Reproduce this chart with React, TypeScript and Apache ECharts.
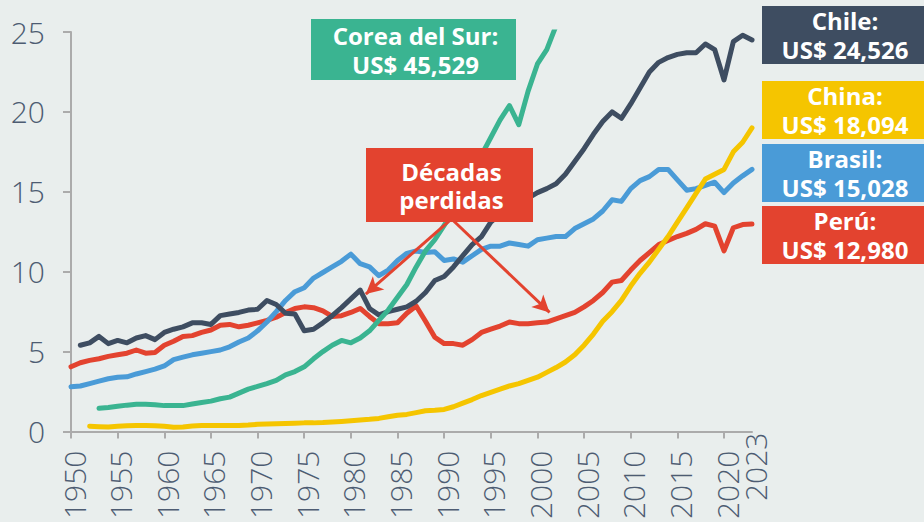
import React, { useEffect, useRef } from "react";
import * as echarts from "echarts";

// ---- Data (PIB per cápita, miles de US$) ----
const xTickYears = [1950, 2023];
const yTicks = [0, 25];

const chileStart = 1951;
const chile = [
  5.4, 5.55, 5.95, 5.5, 5.7, 5.55, 5.85, 6.0, 5.75, 6.2,
  6.4, 6.55, 6.8, 6.8, 6.7, 7.25, 7.35, 7.45, 7.6, 7.65,
  8.2, 7.95, 7.4, 7.35, 6.3, 6.4, 6.8, 7.25, 7.75, 8.3,
  8.85, 7.7, 7.3, 7.5, 7.65, 7.8, 8.15, 8.7, 9.45, 9.7,
  10.3, 11.0, 11.7, 12.2, 13.1, 13.6, 13.95, 14.25, 14.6, 14.95,
  15.2, 15.5, 16.1, 16.9, 17.7, 18.6, 19.4, 20.0, 19.6, 20.5,
  21.5, 22.5, 23.1, 23.4, 23.6, 23.7, 23.7, 24.25, 23.9, 22.0,
  24.4, 24.8, 24.5,
];

const peruStart = 1950;
const peru = [
  4.05, 4.3, 4.45, 4.55, 4.7, 4.8, 4.9, 5.1, 4.9, 4.95,
  5.4, 5.65, 5.95, 6.0, 6.2, 6.35, 6.65, 6.7, 6.55, 6.65,
  6.8, 6.95, 7.15, 7.45, 7.7, 7.8, 7.75, 7.55, 7.2, 7.25,
  7.45, 7.7, 7.2, 6.75, 6.75, 6.8, 7.4, 7.85, 6.9, 5.9,
  5.5, 5.5, 5.4, 5.75, 6.2, 6.4, 6.6, 6.85, 6.75, 6.75,
  6.8, 6.85, 7.05, 7.25, 7.45, 7.8, 8.2, 8.7, 9.35, 9.45,
  10.1, 10.7, 11.2, 11.7, 11.95, 12.2, 12.4, 12.65, 13.0, 12.85,
  11.3, 12.75, 12.95, 12.98,
];

const brasilStart = 1950;
const brasil = [
  2.8, 2.85, 3.0, 3.15, 3.3, 3.4, 3.42, 3.6, 3.75, 3.9,
  4.1, 4.5, 4.65, 4.8, 4.9, 5.0, 5.1, 5.3, 5.6, 5.85,
  6.3, 6.85, 7.5, 8.2, 8.75, 9.0, 9.6, 9.95, 10.3, 10.65,
  11.1, 10.5, 10.3, 9.75, 10.1, 10.7, 11.15, 11.3, 11.2, 11.25,
  10.7, 10.8, 10.6, 11.0, 11.4, 11.6, 11.6, 11.8, 11.7, 11.6,
  12.0, 12.1, 12.2, 12.2, 12.7, 13.0, 13.3, 13.8, 14.5, 14.4,
  15.2, 15.7, 15.95, 16.4, 16.4, 15.75, 15.1, 15.2, 15.4, 15.6,
  14.95, 15.55, 16.0, 16.4,
];

const coreaStart = 1953;
const corea = [
  1.45, 1.5, 1.58, 1.65, 1.7, 1.7, 1.68, 1.62, 1.62, 1.62,
  1.72, 1.82, 1.9, 2.05, 2.15, 2.4, 2.65, 2.82, 3.0, 3.2,
  3.55, 3.75, 4.05, 4.55, 5.0, 5.4, 5.7, 5.55, 5.85, 6.3,
  6.95, 7.6, 8.4, 9.2, 10.3, 11.3, 12.0, 12.9, 13.8, 14.8,
  15.8, 17.3, 18.4, 19.5, 20.4, 19.2, 21.3, 23.0, 23.9, 25.4,
];

const chinaStart = 1952;
const china = [
  0.33, 0.3, 0.28, 0.33, 0.36, 0.37, 0.37, 0.36, 0.33, 0.27,
  0.28, 0.34, 0.37, 0.38, 0.38, 0.37, 0.37, 0.4, 0.45, 0.47,
  0.48, 0.5, 0.52, 0.54, 0.54, 0.56, 0.6, 0.63, 0.67, 0.72,
  0.76, 0.82, 0.92, 1.02, 1.07, 1.18, 1.3, 1.33, 1.38, 1.55,
  1.78, 2.0, 2.25, 2.45, 2.65, 2.85, 3.0, 3.2, 3.4, 3.7,
  4.0, 4.35, 4.8, 5.4, 6.1, 6.9, 7.5, 8.2, 9.1, 9.9,
  10.6, 11.4, 12.2, 13.1, 14.0, 14.9, 15.8, 16.1, 16.4, 17.5,
  18.1, 19.0,
];

// Annotation arrows ("Décadas perdidas"), in data coordinates [year, value]
const arrowFrom = [1990.8, 13.3];
const arrowToLeft = [1981.6, 8.6];
const arrowToRight = [2001.3, 7.45];

const labelChile = "Chile:\nUS$ 24,526";
const labelChina = "China:\nUS$ 18,094";
const labelBrasil = "Brasil:\nUS$ 15,028";
const labelPeru = "Perú:\nUS$ 12,980";
const labelCorea = "Corea del Sur:\nUS$ 45,529";
const labelDecadas = "Décadas\nperdidas";

// ---- Styles ----
const C_CHILE = "#3e4d61";
const C_PERU = "#e3432f";
const C_BRASIL = "#4a9bd7";
const C_COREA = "#3ab491";
const C_CHINA = "#f5c500";
const BG = "#e9eeed";
const AXIS_TEXT = "#4d5c72";
const AXIS_LINE = "#ababab";
const FONT = "'Open Sans', 'Noto Sans', sans-serif";

const toPairs = (start: number, vals: number[]) =>
  vals.map((v, i) => [start + i, v]);

function box(x: number, y: number, w: number, h: number, color: string, text: string, gap: number, size = 24) {
  return {
    type: "group",
    children: [
      { type: "rect", z: 100, shape: { x, y, width: w, height: h }, style: { fill: color } },
      {
        type: "text",
        z: 101,
        style: {
          text,
          x: x + w / 2 + 2,
          y: y + h / 2,
          align: "center",
          verticalAlign: "middle",
          lineHeight: gap,
          fill: "#ffffff",
          fontSize: size,
          fontWeight: "bold",
          fontFamily: FONT,
        },
      },
    ],
  };
}

function lineSeries(name: string, color: string, data: number[][], extra: any = {}) {
  return {
    name,
    type: "line",
    data,
    showSymbol: false,
    symbol: "none",
    clip: true,
    lineStyle: { color, width: 5, cap: "round", join: "round" },
    itemStyle: { color },
    emphasis: { disabled: true },
    ...extra,
  };
}

const xRich = { color: AXIS_TEXT, fontSize: 30, fontWeight: 300, fontFamily: FONT, lineHeight: 20 };

export default function App() {
  const ref = useRef<HTMLDivElement>(null);

  useEffect(() => {
    if (!ref.current) return;
    const chart = echarts.init(ref.current, undefined, { renderer: "svg" });
    const option: any = {
      animation: false,
      backgroundColor: BG,
      grid: { left: 71, right: 172, top: 32, bottom: 86, containLabel: false },
      xAxis: [
        {
          type: "value",
          min: xTickYears[0],
          max: xTickYears[1],
          interval: 5,
          splitLine: { show: false },
          axisLine: { show: true, onZero: false, lineStyle: { color: AXIS_LINE, width: 2 } },
          axisTick: { show: true, length: 7, lineStyle: { color: AXIS_LINE, width: 2 } },
          axisLabel: {
            rotate: 90,
            margin: 1,
            showMinLabel: true,
            showMaxLabel: false,
            formatter: (v: number) => `{n|${v}}`,
            rich: { n: { ...xRich, padding: [6, 18, 0, 0] } },
          },
        },
        {
          // second bottom axis only to show the final year label
          type: "value",
          position: "bottom",
          min: xTickYears[0],
          max: xTickYears[1],
          interval: 5,
          splitLine: { show: false },
          axisLine: { show: false, onZero: false },
          axisTick: { show: false },
          axisLabel: {
            rotate: 90,
            margin: 1,
            showMinLabel: false,
            showMaxLabel: true,
            formatter: (v: number) => (v === xTickYears[1] ? `{e|${v}}` : ""),
            rich: { e: { ...xRich, padding: [6, 0, 0, 0] } },
          },
        },
      ],
      yAxis: {
        type: "value",
        min: yTicks[0],
        max: yTicks[1],
        interval: 5,
        splitLine: { show: false },
        axisLine: { show: true, lineStyle: { color: AXIS_LINE, width: 2 } },
        axisTick: { show: true, length: 8, lineStyle: { color: AXIS_LINE, width: 2 } },
        axisLabel: {
          margin: 26,
          color: AXIS_TEXT,
          fontSize: 30,
          fontWeight: 300,
          fontFamily: FONT,
        },
      },
      series: [
        lineSeries("Perú", C_PERU, toPairs(peruStart, peru)),
        lineSeries("Brasil", C_BRASIL, toPairs(brasilStart, brasil)),
        lineSeries("Chile", C_CHILE, toPairs(chileStart, chile)),
        lineSeries("Corea del Sur", C_COREA, toPairs(coreaStart, corea)),
        lineSeries("China", C_CHINA, toPairs(chinaStart, china), {
          markLine: {
            silent: true,
            symbol: ["none", "arrow"],
            symbolSize: [13, 17],
            label: { show: false },
            lineStyle: { color: C_PERU, width: 3, type: "solid" },
            emphasis: { disabled: true },
            data: [
              [{ coord: arrowFrom }, { coord: arrowToLeft }],
              [{ coord: arrowFrom }, { coord: arrowToRight }],
            ],
          },
        }),
      ],
      graphic: [
        box(311, 19, 205, 61, C_COREA, labelCorea, 29),
        box(366, 148, 167, 74, C_PERU, labelDecadas, 28),
        box(762, 6, 162, 58, C_CHILE, labelChile, 29),
        box(762, 81, 162, 58, C_CHINA, labelChina, 29),
        box(762, 144, 162, 58, C_BRASIL, labelBrasil, 29),
        box(762, 206, 162, 58, C_PERU, labelPeru, 29),
      ],
    };
    chart.setOption(option);
    return () => chart.dispose();
  }, []);

  return (
    <div
      ref={ref}
      style={{ position: "fixed", left: 0, top: 0, width: 924, height: 522, background: BG }}
    />
  );
}
